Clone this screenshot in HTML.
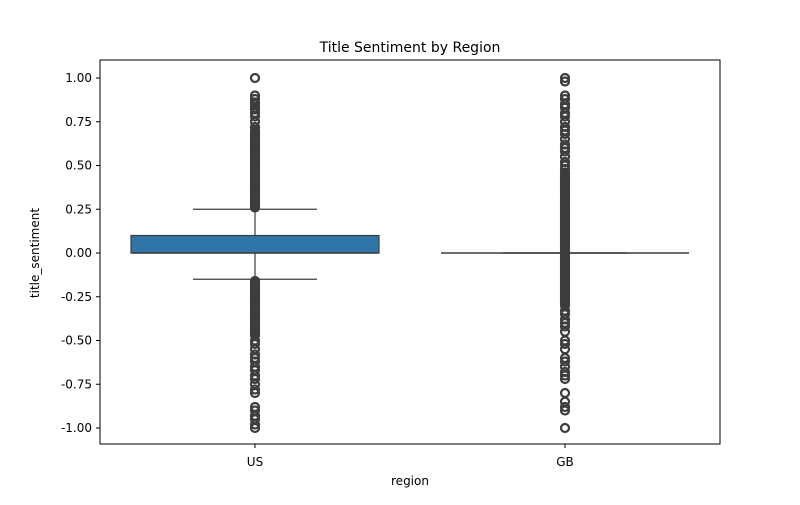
<!DOCTYPE html>
<html><head><meta charset="utf-8"><style>
body{margin:0;background:#fff;font-family:"Liberation Sans","DejaVu Sans",sans-serif}
</style></head><body>
<svg id="chart" width="800" height="500" xmlns="http://www.w3.org/2000/svg" font-family="DejaVu Sans, Liberation Sans, sans-serif">
<rect width="800" height="500" fill="#fff"/>
<text x="410" y="52" text-anchor="middle" font-size="14">Title Sentiment by Region</text>
<text x="410" y="485" text-anchor="middle" font-size="12">region</text>
<text transform="translate(39,253) rotate(-90)" text-anchor="middle" font-size="12">title_sentiment</text>
<g id="marks"></g>
<rect x="100" y="60" width="620" height="384" fill="none" stroke="#000" stroke-width="1"/>
</svg>
<script>
const categories=["US","GB"];
const q1=[0,0];
const median=[0,0];
const q3=[0.1,0];
const whiskLo=[-0.15,0];
const whiskHi=[0.25,0];
const yTicks=[1,0.75,0.5,0.25,0,-0.25,-0.5,-0.75,-1];
const usOutliers=[0.26,0.27,0.28,0.29,0.30,0.31,0.32,0.33,0.34,0.35,0.36,0.37,0.38,0.39,0.40,0.41,0.42,0.43,0.44,0.45,0.46,0.47,0.48,0.49,0.50,0.51,0.52,0.53,0.54,0.55,0.56,0.57,0.58,0.59,0.60,0.61,0.62,0.63,0.64,0.65,0.66,0.67,0.68,0.69,0.70,0.72,0.75,0.78,0.80,0.82,0.83,0.85,0.86,0.88,0.90,1.0,
-0.16,-0.17,-0.18,-0.19,-0.20,-0.21,-0.22,-0.23,-0.24,-0.25,-0.26,-0.27,-0.28,-0.29,-0.30,-0.31,-0.32,-0.33,-0.34,-0.35,-0.36,-0.37,-0.38,-0.39,-0.40,-0.41,-0.42,-0.43,-0.44,-0.45,-0.46,-0.47,-0.50,-0.52,-0.55,-0.58,-0.60,-0.62,-0.65,-0.67,-0.70,-0.72,-0.75,-0.78,-0.80,-0.88,-0.90,-0.93,-0.95,-0.98,-1.0];
const gbOutliers=[0.01,0.02,0.03,0.04,0.05,0.06,0.07,0.08,0.09,0.10,0.11,0.12,0.13,0.14,0.15,0.16,0.17,0.18,0.19,0.20,0.21,0.22,0.23,0.24,0.25,0.26,0.27,0.28,0.29,0.30,0.31,0.32,0.33,0.34,0.35,0.36,0.37,0.38,0.39,0.40,0.41,0.42,0.43,0.44,0.45,0.46,0.48,0.50,0.52,0.55,0.58,0.60,0.62,0.65,0.68,0.70,0.72,0.75,0.78,0.80,0.83,0.85,0.88,0.90,0.98,1.0,
-0.01,-0.02,-0.03,-0.04,-0.05,-0.06,-0.07,-0.08,-0.09,-0.10,-0.11,-0.12,-0.13,-0.14,-0.15,-0.16,-0.17,-0.18,-0.19,-0.20,-0.21,-0.22,-0.23,-0.24,-0.25,-0.26,-0.27,-0.28,-0.29,-0.30,-0.33,-0.35,-0.38,-0.40,-0.42,-0.45,-0.50,-0.52,-0.55,-0.60,-0.62,-0.65,-0.68,-0.70,-0.72,-0.80,-0.85,-0.88,-0.90,-1.0];
const outliers=[usOutliers,gbOutliers];
const NS="http://www.w3.org/2000/svg";
const g=document.getElementById('marks');
const svg=document.getElementById('chart');
function y(v){return 253-175*v;}
function x(i){return 100+620*(i+0.5)/categories.length;}
const bw=620/categories.length*0.8;
function mk(t,a){const e=document.createElementNS(NS,t);for(const k in a)e.setAttribute(k,a[k]);return e;}
yTicks.forEach(v=>{
 const t=mk('line',{x1:96,x2:100,y1:y(v),y2:y(v),stroke:'#000'});
 
 
 svg.appendChild(t);
 const l=mk('text',{x:92,y:y(v)+4,'text-anchor':'end','font-size':12});
 
 
 l.textContent=v.toFixed(2);svg.appendChild(l);
});
categories.forEach((c,i)=>{
 const cx=x(i);
 const t=mk('line',{x1:cx,x2:cx,y1:444,y2:448,stroke:'#000'});
 
 
 svg.appendChild(t);
 const l=mk('text',{x:cx,y:466,'text-anchor':'middle','font-size':12});
 
 
 l.textContent=c;svg.appendChild(l);
 const wl=mk('line',{x1:cx,x2:cx,y1:y(whiskHi[i]),y2:y(whiskLo[i]),stroke:'#3d3d3d','stroke-width':1.2});
 
 
 g.appendChild(wl);
 [whiskHi[i],whiskLo[i]].forEach(w=>{
  const cap=mk('line',{x1:cx-bw/4,x2:cx+bw/4,y1:y(w),y2:y(w),stroke:'#3d3d3d','stroke-width':1.2});
  
  
  g.appendChild(cap);
 });
 const b=mk('rect',{x:cx-bw/2,y:y(q3[i]),width:bw,height:Math.max(0,y(q1[i])-y(q3[i])),fill:'#2f75a8',stroke:'#3d3d3d','stroke-width':1.2});
 
 
 g.appendChild(b);
 const m=mk('line',{x1:cx-bw/2,x2:cx+bw/2,y1:y(median[i]),y2:y(median[i]),stroke:'#3d3d3d','stroke-width':1.5});
 
 
 g.appendChild(m);
 outliers[i].forEach(v=>{
  const o=mk('circle',{cx:cx,cy:y(v),r:4,fill:'none',stroke:'#3d3d3d','stroke-width':2.2});
  
  
  g.appendChild(o);
 });
});
</script>
</body></html>
